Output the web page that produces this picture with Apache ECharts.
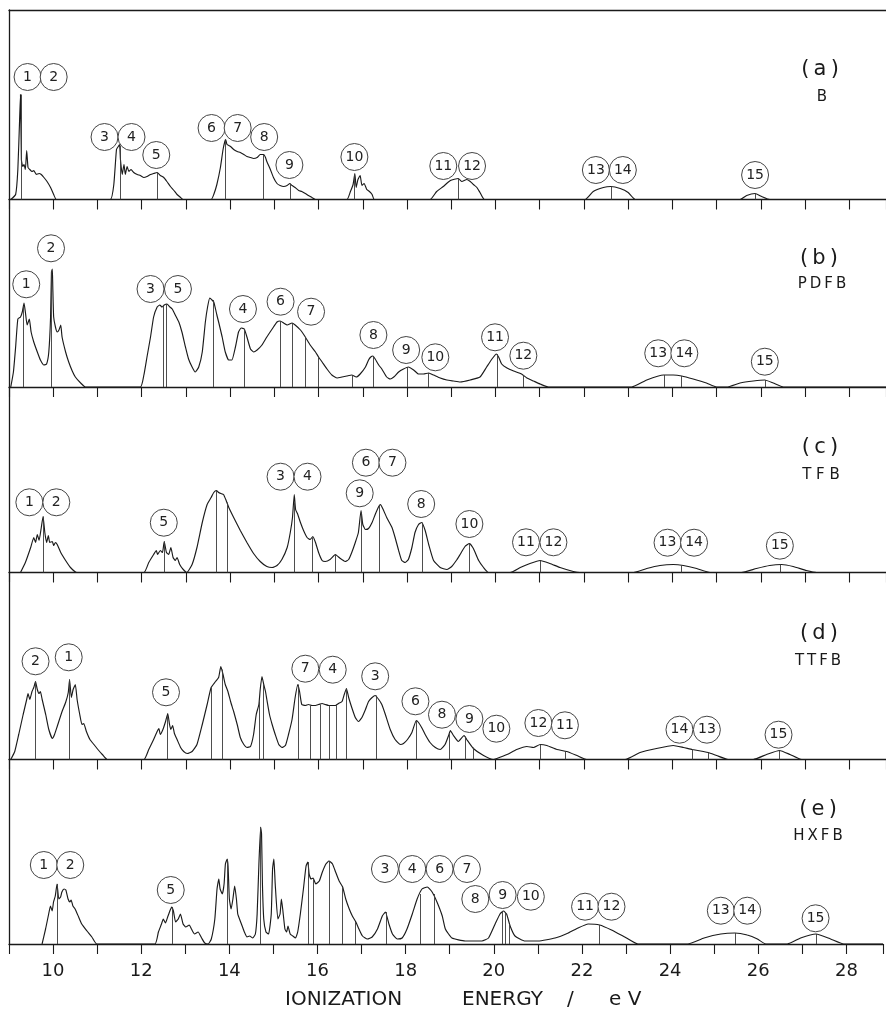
<!DOCTYPE html>
<html>
<head>
<meta charset="utf-8">
<script src="https://cdn.jsdelivr.net/npm/echarts@6/dist/echarts.min.js"></script>
<style>
  html, body { margin: 0; padding: 0; background: #ffffff; }
  #chart { width: 886px; height: 1010px; }
</style>
</head>
<body>
<div id="chart"></div>
<script>
// Photoelectron spectra of benzene and its fluoro derivatives.
// Each curve is [ionization energy (eV), relative intensity].

// ---- (a) B ----
const spectrumB = [
  [9.04,0],[9.15,5],[9.20,30],[9.24,80],[9.26,105],[9.28,40],[9.31,33],[9.34,35],[9.37,30],[9.40,49],[9.43,32],[9.47,30],[9.52,28],[9.56,29],[9.62,25],[9.68,26],[9.73,25],[9.79,22],[9.86,18],[9.94,12],[10.01,5],[10.07,0],
  [11.29,0],[11.37,15],[11.43,50],[11.47,53],[11.50,55],[11.52,40],[11.56,25],[11.60,35],[11.63,25],[11.67,33],[11.71,28],[11.76,30],[11.82,27],[11.90,25],[11.97,24],[12.05,22],[12.12,23],[12.20,25],[12.27,26],[12.35,27],[12.42,24],[12.50,22],[12.57,18],[12.65,13],[12.73,9],[12.80,5],[12.88,2],[12.94,0],
  [13.57,0],[13.63,5],[13.70,15],[13.78,32],[13.84,50],[13.88,58],[13.90,60],[13.93,55],[14.01,53],[14.08,50],[14.16,48],[14.23,47],[14.31,45],[14.38,43],[14.46,42],[14.53,41],[14.61,42],[14.68,45],[14.76,45],[14.80,42],[14.83,38],[14.91,30],[14.98,22],[15.06,16],[15.13,14],[15.21,13],[15.29,14],[15.35,16],[15.40,14],[15.47,12],[15.55,9],[15.62,8],[15.70,6],[15.77,4],[15.85,2],[15.93,0],
  [16.64,0],[16.72,8],[16.78,15],[16.82,26],[16.85,12],[16.89,20],[16.94,24],[16.98,14],[17.03,16],[17.09,10],[17.15,8],[17.21,5],[17.26,0],
  [18.52,0],[18.67,8],[18.82,13],[18.98,19],[19.16,21],[19.24,18],[19.35,20],[19.43,18],[19.50,15],[19.58,12],[19.65,7],[19.75,0],
  [22.03,0],[22.21,8],[22.44,12],[22.61,13],[22.82,11],[23.00,7],[23.16,0],
  [25.53,0],[25.68,4],[25.87,6],[26.02,3],[26.20,0],[28.83,0]
];
const sticksB = [[9.27,105],[11.51,54],[12.35,27],[13.90,59],[14.74,45],[15.35,16],[16.81,25],[19.16,21],[22.61,13],[25.88,6]];
const bandsB = [
  [9.42,122.5,'1'],[10.01,122.5,'2'],[11.16,62.5,'3'],[11.77,62.5,'4'],[12.33,44.5,'5'],
  [13.58,71.5,'6'],[14.17,71.5,'7'],[14.77,62.5,'8'],[15.34,34.5,'9'],[16.81,42.5,'10'],
  [18.82,33.5,'11'],[19.47,33.5,'12'],[22.27,29.5,'13'],[22.88,29.5,'14'],[25.87,24.5,'15']
];

// ---- (b) PDFB ----
const spectrumPDFB = [
  [9.04,0],[9.10,15],[9.15,40],[9.20,68],[9.26,70],[9.30,75],[9.34,84],[9.37,75],[9.41,62],[9.46,68],[9.50,55],[9.56,45],[9.64,35],[9.71,27],[9.79,22],[9.85,23],[9.90,35],[9.94,70],[9.96,115],[9.98,118],[9.99,100],[10.01,70],[10.05,60],[10.09,55],[10.13,57],[10.17,62],[10.20,50],[10.28,35],[10.35,25],[10.43,16],[10.50,10],[10.62,4],[10.73,0],
  [11.97,0],[12.05,12],[12.12,30],[12.20,50],[12.27,70],[12.35,80],[12.41,82],[12.46,80],[12.51,82],[12.57,83],[12.64,80],[12.69,78],[12.76,72],[12.84,65],[12.91,55],[12.99,40],[13.06,28],[13.14,20],[13.21,15],[13.29,20],[13.37,35],[13.44,65],[13.49,80],[13.54,89],[13.59,87],[13.63,85],[13.67,78],[13.70,72],[13.74,65],[13.82,50],[13.89,35],[13.97,27],[14.04,27],[14.12,40],[14.19,55],[14.25,59],[14.32,58],[14.38,50],[14.46,38],[14.53,35],[14.61,37],[14.72,42],[14.83,50],[14.95,58],[15.06,65],[15.13,66],[15.21,64],[15.29,62],[15.40,64],[15.47,62],[15.59,57],[15.70,50],[15.81,42],[15.93,35],[16.00,30],[16.08,25],[16.19,18],[16.30,12],[16.42,9],[16.53,10],[16.64,11],[16.75,12],[16.85,10],[16.94,13],[17.06,20],[17.13,27],[17.18,30],[17.23,31],[17.28,28],[17.36,22],[17.43,18],[17.54,10],[17.62,8],[17.70,10],[17.81,15],[17.92,18],[18.03,20],[18.15,17],[18.26,13],[18.37,13],[18.49,14],[18.60,12],[18.75,9],[18.90,7],[19.05,6],[19.20,5],[19.43,7],[19.65,10],[19.80,20],[19.92,28],[20.02,33],[20.07,30],[20.14,23],[20.26,19],[20.41,16],[20.59,13],[20.71,9],[20.86,6],[21.01,3],[21.20,0],
  [23.08,0],[23.42,7],[23.80,12],[24.02,12],[24.21,11],[24.47,8],[24.77,4],[25.00,0],
  [25.23,0],[25.53,4],[25.83,6],[26.09,7],[26.28,4],[26.51,0],[28.83,0]
];
const sticksPDFB = [[9.32,80],[9.96,116],[12.48,82],[12.56,83],[13.61,87],[14.33,58],[15.13,66],[15.41,64],[15.70,50],[16.00,30],[16.75,12],[17.24,31],[18.01,20],[18.49,14],[20.03,33],[20.62,12],[23.81,12],[24.21,11],[26.09,7]];
const bandsPDFB = [
  [9.39,102.7,'1'],[9.95,138.7,'2'],[12.20,98,'3'],[12.82,98,'5'],[14.29,78,'4'],
  [15.14,85.3,'6'],[15.83,75.3,'7'],[17.24,52,'8'],[17.98,37,'9'],[18.64,29.7,'10'],
  [19.99,49.7,'11'],[20.63,31.3,'12'],[23.68,33.7,'13'],[24.27,33.7,'14'],[26.09,25.3,'15']
];

// ---- (c) TFB ----
const spectrumTFB = [
  [9.26,0],[9.37,10],[9.49,25],[9.56,35],[9.60,30],[9.64,38],[9.68,32],[9.73,45],[9.77,56],[9.81,40],[9.85,30],[9.89,37],[9.92,30],[9.98,31],[10.01,27],[10.05,30],[10.09,28],[10.17,20],[10.28,12],[10.39,5],[10.53,0],
  [12.05,0],[12.16,10],[12.27,18],[12.33,22],[12.36,18],[12.42,22],[12.47,20],[12.51,31],[12.56,20],[12.61,18],[12.66,25],[12.71,15],[12.76,12],[12.80,15],[12.86,8],[12.94,3],[13.02,0],
  [13.14,8],[13.25,25],[13.37,50],[13.48,68],[13.57,75],[13.63,80],[13.69,82],[13.74,80],[13.79,79],[13.85,78],[13.91,72],[13.97,65],[14.08,55],[14.23,42],[14.38,30],[14.53,19],[14.68,11],[14.83,6],[14.95,5],[15.06,7],[15.17,13],[15.29,25],[15.36,40],[15.41,55],[15.45,78],[15.48,63],[15.53,58],[15.59,50],[15.66,42],[15.74,35],[15.81,33],[15.87,36],[15.93,30],[16.00,20],[16.08,12],[16.15,11],[16.26,13],[16.38,18],[16.49,14],[16.60,11],[16.68,13],[16.75,20],[16.83,30],[16.90,40],[16.96,62],[17.00,48],[17.06,43],[17.13,44],[17.21,50],[17.28,58],[17.36,66],[17.40,68],[17.45,64],[17.54,55],[17.66,45],[17.73,35],[17.81,22],[17.88,12],[17.96,10],[18.03,13],[18.11,25],[18.18,40],[18.26,48],[18.33,50],[18.41,42],[18.49,28],[18.60,12],[18.75,5],[18.90,3],[19.01,6],[19.13,13],[19.20,18],[19.31,26],[19.41,29],[19.50,24],[19.62,12],[19.73,5],[19.84,0],
  [20.33,0],[20.56,5],[20.78,9],[21.01,12],[21.23,9],[21.46,5],[21.76,1],[21.91,0],
  [23.12,0],[23.42,4],[23.72,7],[24.02,8],[24.25,7],[24.55,4],[24.85,0],
  [25.56,0],[25.90,4],[26.20,7],[26.47,8],[26.73,6],[27.03,2],[27.26,0],[28.83,0]
];
const sticksTFB = [[9.77,56],[12.51,31],[13.69,82],[13.93,70],[15.44,70],[15.85,35],[16.38,18],[16.97,60],[17.37,67],[18.34,50],[19.41,29],[21.01,12],[24.21,7],[26.45,8]];
const bandsTFB = [
  [9.46,70.2,'1'],[10.07,70.2,'2'],[12.50,49.8,'5'],[15.14,95.8,'3'],[15.75,95.8,'4'],
  [17.07,109.8,'6'],[17.67,109.8,'7'],[16.93,79.2,'9'],[18.32,68.5,'8'],[19.41,48.5,'10'],
  [20.69,30.2,'11'],[21.31,30.2,'12'],[23.89,29.8,'13'],[24.49,29.8,'14'],[26.43,26.8,'15']
];

// ---- (d) TTFB ----
const spectrumTTFB = [
  [9.04,0],[9.13,8],[9.22,25],[9.32,45],[9.40,60],[9.43,66],[9.47,60],[9.52,68],[9.56,72],[9.60,78],[9.64,70],[9.68,66],[9.71,68],[9.75,60],[9.83,45],[9.90,30],[9.98,21],[10.03,25],[10.09,33],[10.20,48],[10.28,57],[10.34,67],[10.37,80],[10.41,62],[10.45,70],[10.50,75],[10.54,60],[10.60,45],[10.65,35],[10.69,36],[10.75,28],[10.83,20],[10.92,15],[11.01,10],[11.11,5],[11.22,0],
  [12.05,0],[12.16,10],[12.27,20],[12.35,28],[12.39,31],[12.42,25],[12.48,30],[12.54,38],[12.59,46],[12.63,35],[12.66,30],[12.70,34],[12.74,26],[12.80,20],[12.88,12],[12.95,8],[13.03,6],[13.14,8],[13.25,15],[13.37,35],[13.48,55],[13.57,72],[13.67,78],[13.74,82],[13.79,93],[13.84,85],[13.89,75],[13.95,68],[14.01,58],[14.08,48],[14.16,35],[14.23,22],[14.31,15],[14.38,12],[14.46,13],[14.53,25],[14.59,45],[14.65,55],[14.68,70],[14.72,83],[14.76,75],[14.80,68],[14.83,60],[14.89,45],[14.95,35],[15.02,25],[15.10,15],[15.17,12],[15.25,14],[15.32,25],[15.40,40],[15.47,62],[15.53,75],[15.57,68],[15.62,55],[15.70,54],[15.77,55],[15.85,54],[15.93,54],[16.00,55],[16.08,56],[16.15,55],[16.23,54],[16.30,54],[16.38,54],[16.45,56],[16.53,58],[16.58,65],[16.63,71],[16.68,62],[16.75,52],[16.83,42],[16.90,38],[16.98,42],[17.06,50],[17.13,58],[17.21,62],[17.28,64],[17.36,60],[17.43,55],[17.51,45],[17.62,30],[17.73,20],[17.85,15],[17.92,16],[18.01,20],[18.11,27],[18.21,39],[18.26,37],[18.33,32],[18.41,25],[18.52,17],[18.64,12],[18.75,10],[18.86,15],[18.94,24],[18.98,29],[19.05,24],[19.16,18],[19.29,24],[19.35,20],[19.50,11],[19.73,4],[19.95,0],[20.03,1],[20.26,5],[20.48,10],[20.71,13],[20.86,12],[21.01,15],[21.16,14],[21.39,10],[21.61,8],[21.84,4],[22.06,0],
  [22.93,0],[23.27,7],[23.64,11],[24.02,14],[24.25,12],[24.45,10],[24.70,8],[24.81,7],[25.00,4],[25.26,0],
  [25.83,0],[26.13,5],[26.42,9],[26.66,5],[26.92,0],[28.83,0]
];
const sticksTTFB = [[9.60,78],[10.37,80],[12.57,44],[13.58,72],[13.82,90],[14.66,58],[14.76,75],[15.53,75],[15.81,54],[16.04,55],[16.23,54],[16.41,55],[16.62,71],[17.30,64],[18.21,39],[18.95,26],[19.31,23],[19.49,12],[21.01,15],[21.57,8],[24.45,10],[24.81,7],[26.42,9]];
const bandsTTFB = [
  [9.60,98.2,'2'],[10.35,102.2,'1'],[12.55,67.2,'5'],[15.70,90.8,'7'],[16.32,89.8,'4'],
  [17.28,83.2,'3'],[18.19,58.2,'6'],[18.79,44.8,'8'],[19.41,40.5,'9'],[20.02,30.8,'10'],
  [20.97,36.5,'12'],[21.57,34.2,'11'],[24.16,29.8,'14'],[24.78,29.8,'13'],[26.40,24.8,'15']
];

// ---- (e) HXFB ----
const spectrumHXFB = [
  [9.75,0],[9.83,15],[9.90,30],[9.94,38],[9.98,33],[10.01,42],[10.05,48],[10.09,60],[10.13,45],[10.17,47],[10.20,52],[10.25,55],[10.29,54],[10.34,45],[10.38,42],[10.41,44],[10.45,38],[10.50,35],[10.58,27],[10.65,20],[10.77,13],[10.88,7],[10.99,0],
  [12.31,0],[12.39,12],[12.46,20],[12.50,25],[12.55,21],[12.60,27],[12.65,33],[12.69,37],[12.73,33],[12.78,22],[12.84,25],[12.89,30],[12.95,20],[13.01,17],[13.09,19],[13.14,15],[13.21,10],[13.29,12],[13.37,6],[13.44,1],[13.52,0],[13.59,5],[13.67,25],[13.72,55],[13.76,65],[13.79,55],[13.84,50],[13.88,60],[13.91,80],[13.95,85],[13.97,78],[14.00,45],[14.04,35],[14.08,45],[14.12,58],[14.16,45],[14.19,30],[14.23,25],[14.29,18],[14.34,12],[14.40,7],[14.46,8],[14.53,6],[14.59,10],[14.63,30],[14.67,80],[14.71,117],[14.73,110],[14.75,60],[14.78,25],[14.83,12],[14.89,10],[14.95,30],[14.98,75],[15.01,85],[15.04,60],[15.10,25],[15.15,30],[15.18,45],[15.21,35],[15.26,15],[15.30,12],[15.33,18],[15.38,10],[15.44,8],[15.50,6],[15.55,12],[15.61,30],[15.68,55],[15.74,78],[15.78,82],[15.81,70],[15.85,65],[15.90,66],[15.96,60],[16.04,63],[16.11,72],[16.19,80],[16.26,83],[16.34,80],[16.41,72],[16.49,63],[16.57,57],[16.64,45],[16.72,35],[16.79,28],[16.87,22],[16.94,15],[17.02,8],[17.13,5],[17.24,7],[17.36,15],[17.47,28],[17.54,32],[17.62,20],[17.70,10],[17.81,5],[17.92,6],[18.03,15],[18.15,30],[18.26,45],[18.37,55],[18.49,57],[18.60,52],[18.71,42],[18.83,28],[18.90,15],[19.05,6],[19.35,3],[19.73,3],[19.88,6],[20.03,20],[20.14,30],[20.22,33],[20.29,30],[20.37,18],[20.48,8],[20.71,3],[21.01,3],[21.39,6],[21.69,11],[21.91,16],[22.14,20],[22.40,19],[22.67,14],[22.97,7],[23.27,0],
  [24.40,0],[24.77,6],[25.15,10],[25.47,11],[25.75,9],[25.98,5],[26.17,0],
  [26.66,0],[26.96,6],[27.31,10],[27.64,5],[27.94,0],[28.83,0]
];
const sticksHXFB = [[10.09,60],[12.70,37],[13.95,85],[14.71,117],[15.78,82],[15.91,66],[16.26,83],[16.57,57],[16.86,22],[17.56,32],[18.32,50],[18.65,50],[20.18,33],[20.26,32],[20.35,20],[22.40,19],[25.47,11],[27.31,10]];
const bandsHXFB = [
  [9.79,79,'1'],[10.39,79,'2'],[12.67,54,'5'],[17.53,75,'3'],[18.15,75,'4'],
  [18.77,75,'6'],[19.39,75,'7'],[19.58,45,'8'],[20.20,49,'9'],[20.84,47.3,'10'],
  [22.07,37.3,'11'],[22.67,37.3,'12'],[25.15,33.3,'13'],[25.75,33.3,'14'],[27.30,25.7,'15']
];

// Axis labelling
const energyTickLabels = ['10','12','14','16','18','20','22','24','26','28'];
const panelTags = ['(\u2009a\u2009)', '(\u2009b\u2009)', '(\u2009c\u2009)', '(\u2009d\u2009)', '(\u2009e\u2009)'];
const compoundNames = ['B', 'P\u2009D\u2009F\u2009B', 'T F B', 'T\u2009T\u2009F\u2009B', 'H\u2009X\u2009F\u2009B'];
const axisTitleWords = ['IONIZATION', 'ENERGY', '/', 'e V'];

// ---------------------------------------------------------------
const INK = '#1a1a1a';
const FONT = '"DejaVu Sans", sans-serif';

const curves = [spectrumB, spectrumPDFB, spectrumTFB, spectrumTTFB, spectrumHXFB];
const sticks = [sticksB, sticksPDFB, sticksTFB, sticksTTFB, sticksHXFB];
const bands = [bandsB, bandsPDFB, bandsTFB, bandsTTFB, bandsHXFB];

// panel frames: top edge and baseline (px)
const frames = [[10, 199.5], [199.5, 387], [387, 572.5], [572.5, 759.5], [759.5, 944]];
const tagPos = [[820, 70, 822, 97], [819, 259, 822, 284], [820, 448, 821, 475], [819, 634, 818, 661], [818, 810, 818, 836]];

const grids = [], xAxes = [], yAxes = [], series = [], graphics = [];

frames.forEach(([top, base], i) => {
  const h = base - top;
  grids.push({ left: 9, right: 0, top: top, height: h, containLabel: false });
  xAxes.push({
    gridIndex: i, type: 'value', min: 9, max: 28.83, interval: 1,
    axisLine: { show: true, onZero: false, lineStyle: { color: INK, width: 1.3 } },
    axisTick: { show: true, inside: false, length: 10, lineStyle: { color: INK, width: 1.1 } },
    axisLabel: {
      show: i === frames.length - 1, margin: 18, color: INK, fontSize: 18, fontFamily: FONT,
      formatter: v => {
        const s = String(Math.round(v));
        return (Math.abs(v - Math.round(v)) < 1e-6 && energyTickLabels.includes(s)) ? s : '';
      }
    },
    splitLine: { show: false }
  });
  yAxes.push({
    gridIndex: i, type: 'value', min: 0, max: h,
    axisLine: { show: true, onZero: false, lineStyle: { color: INK, width: 1.3 } },
    axisTick: { show: false }, axisLabel: { show: false }, splitLine: { show: false }
  });

  series.push({
    type: 'line', xAxisIndex: i, yAxisIndex: i, data: curves[i],
    showSymbol: false, smooth: 0.15, z: 3, silent: true,
    lineStyle: { color: INK, width: 1.15 },
    markLine: {
      silent: true, symbol: ['none', 'none'], animation: false,
      label: { show: false },
      lineStyle: { color: '#3a3a3a', width: 0.9, type: 'solid' },
      data: sticks[i].map(([e, v]) => [{ coord: [e, 0] }, { coord: [e, v] }])
    }
  });

  series.push({
    type: 'scatter', xAxisIndex: i, yAxisIndex: i, z: 5, silent: true,
    symbol: 'circle', symbolSize: 27,
    itemStyle: { color: '#ffffff', borderColor: '#444444', borderWidth: 1, opacity: 1 },
    label: {
      show: true, position: 'inside', formatter: p => p.name,
      color: '#222222', fontSize: 14, fontFamily: FONT
    },
    data: bands[i].map(([e, v, t]) => ({ value: [e, v], name: t }))
  });

  const [tx, ty, nx, ny] = tagPos[i];
  graphics.push({
    type: 'text', x: tx, y: ty,
    style: { text: panelTags[i], fill: INK, font: '21px ' + FONT, align: 'center', verticalAlign: 'middle' }
  });
  graphics.push({
    type: 'text', x: nx, y: ny,
    style: { text: compoundNames[i], fill: INK, font: '15px ' + FONT, align: 'center', verticalAlign: 'middle' }
  });
});

// top frame line of the first panel
xAxes.push({
  gridIndex: 0, type: 'value', min: 9, max: 28.83, position: 'top',
  axisLine: { show: true, onZero: false, lineStyle: { color: INK, width: 1.3 } },
  axisTick: { show: false }, axisLabel: { show: false }, splitLine: { show: false }
});

// axis title, set in spaced words
const titleX = [285, 462, 567, 609];
axisTitleWords.forEach((w, k) => {
  graphics.push({
    type: 'text', x: titleX[k], y: 1000,
    style: { text: w, fill: INK, font: '20px ' + FONT, align: 'left', verticalAlign: 'middle' }
  });
});

const chart = echarts.init(document.getElementById('chart'), null, { renderer: 'canvas' });
chart.setOption({
  backgroundColor: '#ffffff',
  animation: false,
  grid: grids,
  xAxis: xAxes,
  yAxis: yAxes,
  series: series,
  graphic: graphics
});
</script>
</body>
</html>
